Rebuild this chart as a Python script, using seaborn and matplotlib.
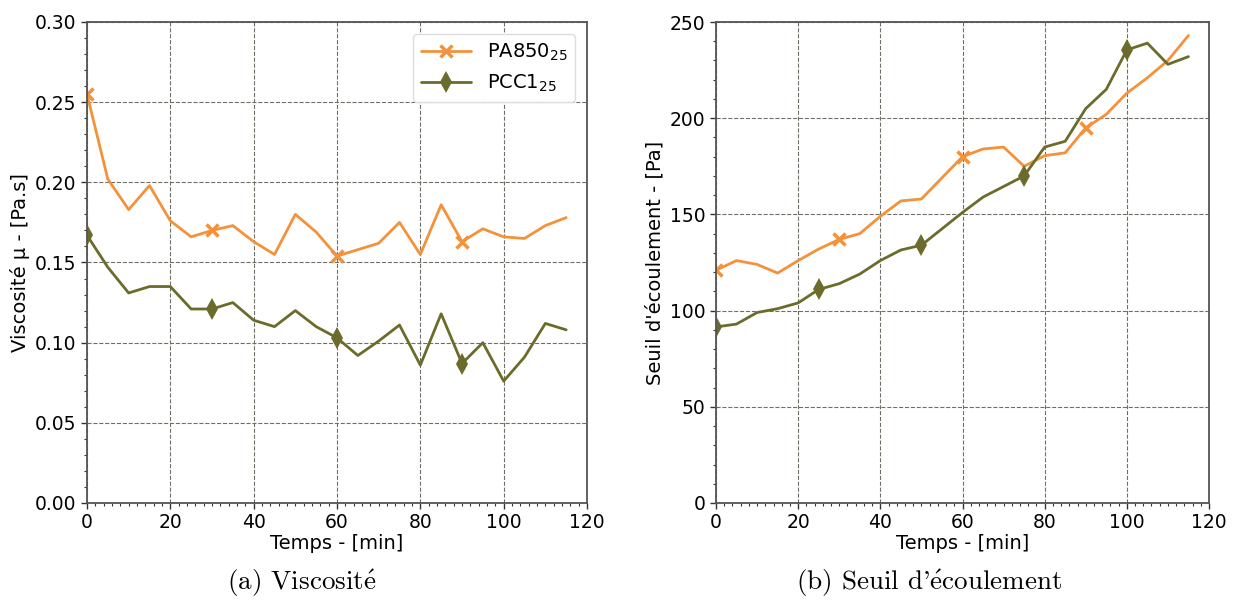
import matplotlib
matplotlib.use('Agg')
import matplotlib.pyplot as plt
import seaborn as sns
import pandas as pd
from matplotlib.ticker import MultipleLocator

# temps de mesure [min]
temps = [0, 5, 10, 15, 20, 25, 30, 35, 40, 45, 50, 55, 60, 65, 70, 75,
         80, 85, 90, 95, 100, 105, 110, 115]

# viscosite [Pa.s]
visc_pa850 = [0.255, 0.202, 0.183, 0.198, 0.176, 0.166, 0.170, 0.173, 0.163, 0.155,
              0.180, 0.169, 0.154, 0.158, 0.162, 0.175, 0.155, 0.186, 0.163, 0.171,
              0.166, 0.165, 0.173, 0.178]
visc_pcc1 = [0.167, 0.147, 0.131, 0.135, 0.135, 0.121, 0.121, 0.125, 0.114, 0.110,
             0.120, 0.110, 0.103, 0.092, 0.101, 0.111, 0.086, 0.118, 0.087, 0.100,
             0.076, 0.091, 0.112, 0.108]

# seuil d'ecoulement [Pa]
seuil_pa850 = [121, 126, 124, 119.5, 126, 132, 137, 140, 149, 157,
               158, 169, 180, 184, 185, 175, 180.5, 182, 195, 202,
               213, 221, 230, 243]
seuil_pcc1 = [91.5, 93, 99, 101, 104, 111, 114, 119, 126, 131.5,
              134, 142.5, 151, 159, 164.5, 170, 185, 188, 205, 215,
              235.5, 239, 228, 232]

orange = '#f3923a'
olive = '#6b6b2b'

sns.set_style('white')
plt.rcParams['font.family'] = ['DejaVu Sans']
plt.rcParams['mathtext.fontset'] = 'dejavusans'
plt.rcParams['text.color'] = 'black'
plt.rcParams['axes.labelcolor'] = 'black'
plt.rcParams['xtick.color'] = 'black'
plt.rcParams['ytick.color'] = 'black'

fig, axes = plt.subplots(1, 2, figsize=(12.36, 6.03), dpi=100)
W, H = 1236, 603
axes[0].set_position([87 / W, 100 / H, 500 / W, 481 / H])
axes[1].set_position([716 / W, 100 / H, 493 / W, 481 / H])

df_v = pd.DataFrame({'t': temps, 'PA850': visc_pa850, 'PCC1': visc_pcc1})
df_s = pd.DataFrame({'t': temps, 'PA850': seuil_pa850, 'PCC1': seuil_pcc1})

x_style = dict(color=orange, lw=2, marker='x', markersize=9, mew=2.5,
               mec=orange, mfc=orange, markevery=6)
d_style = dict(color=olive, lw=2, marker='d', markersize=11, mew=0,
               mec=olive, mfc=olive)

ax = axes[0]
sns.lineplot(data=df_v, x='t', y='PA850', ax=ax, label=r'PA850$_{25}$', **x_style)
sns.lineplot(data=df_v, x='t', y='PCC1', ax=ax, markevery=6, label=r'PCC1$_{25}$', **d_style)
ax.set_ylim(0, 0.30)
ax.yaxis.set_major_locator(MultipleLocator(0.05))
ax.yaxis.set_minor_locator(MultipleLocator(0.01))
ax.set_ylabel('Viscosité µ - [Pa.s]', fontsize=14)
ax.legend(loc='upper right', fontsize=14, framealpha=1, edgecolor='#dddddd',
          handlelength=2.6, borderaxespad=0.6)

ax = axes[1]
sns.lineplot(data=df_s, x='t', y='PA850', ax=ax, legend=False, **x_style)
sns.lineplot(data=df_s, x='t', y='PCC1', ax=ax, markevery=5, legend=False, **d_style)
ax.set_ylim(0, 250)
ax.yaxis.set_major_locator(MultipleLocator(50))
ax.yaxis.set_minor_locator(MultipleLocator(10))
ax.set_ylabel("Seuil d'écoulement - [Pa]", fontsize=14)

for ax in axes:
    ax.set_xlim(0, 120)
    ax.xaxis.set_major_locator(MultipleLocator(20))
    ax.xaxis.set_minor_locator(MultipleLocator(2))
    ax.set_xlabel('Temps - [min]', fontsize=14, labelpad=1)
    ax.grid(True, which='major', ls='--', color='#6f6f66', lw=0.8)
    ax.tick_params(which='major', direction='out', length=4, width=1, labelsize=13.5,
                   bottom=True, left=True, color='#333333')
    ax.tick_params(which='minor', direction='out', length=2, width=0.8,
                   bottom=True, left=True, color='#333333')
    for s in ax.spines.values():
        s.set_color('#555555')
        s.set_linewidth(1.3)

cap_font = ['cmr10', 'DejaVu Serif']
fig.text(0.244, 0.022, r'(a) Viscosit$\mathrm{\acute{e}}$', ha='center', va='baseline',
         family=cap_font, fontsize=19.5, math_fontfamily='cm')
fig.text(0.752, 0.022, r"(b) Seuil d'$\mathrm{\acute{e}}$coulement", ha='center',
         va='baseline', family=cap_font, fontsize=19.5, math_fontfamily='cm')

plt.savefig('out.png', dpi=100)
